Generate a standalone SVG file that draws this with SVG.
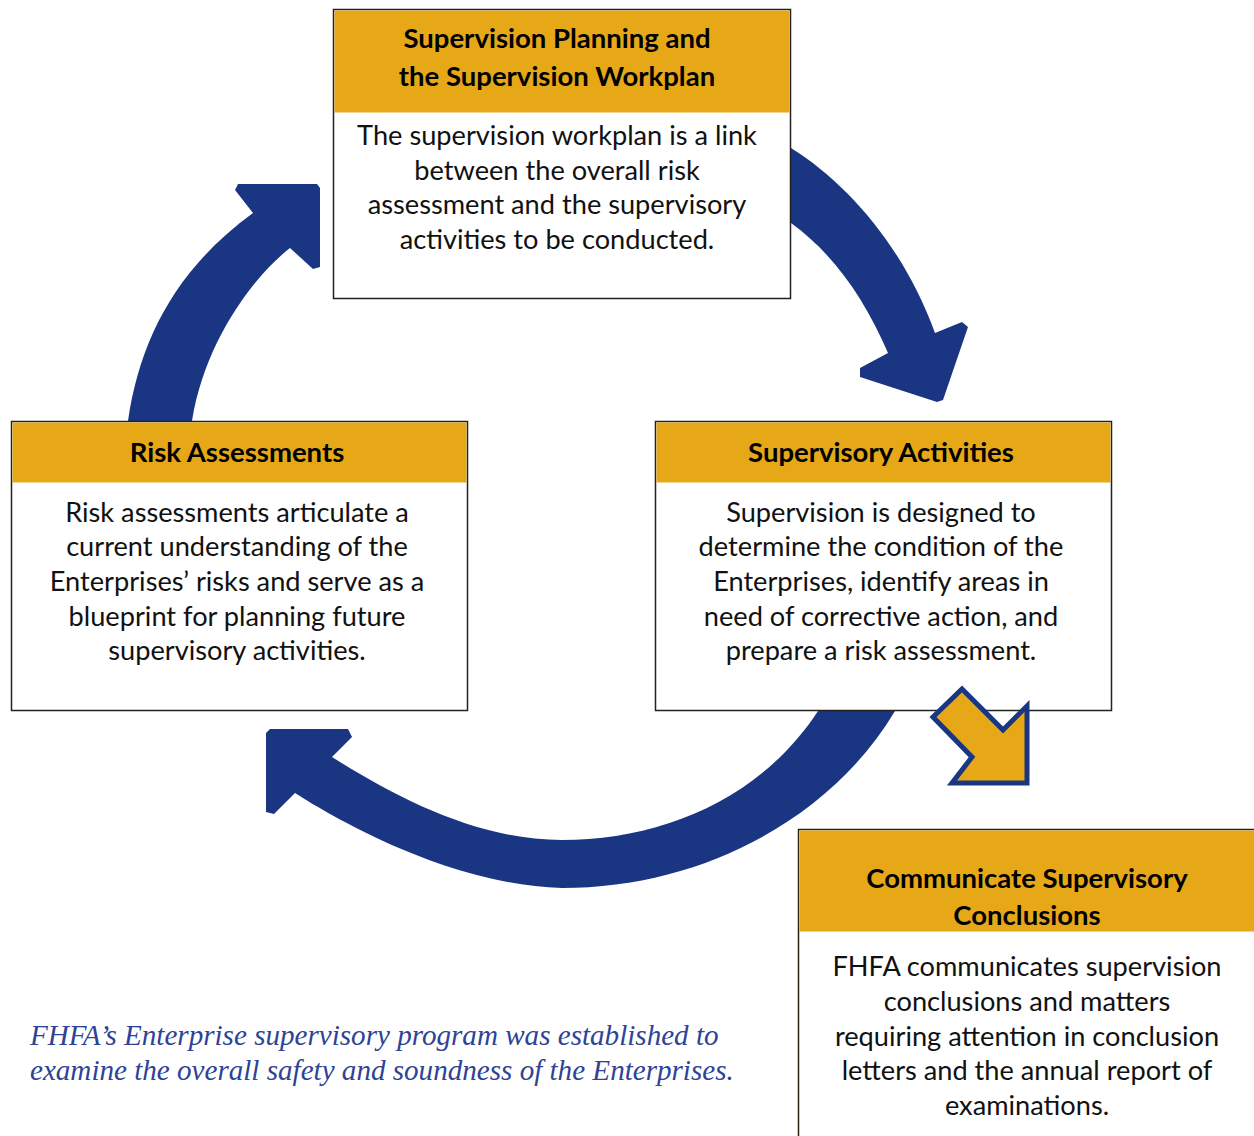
<svg xmlns="http://www.w3.org/2000/svg" width="1254" height="1136" viewBox="0 0 1254 1136">
<style>
.box{fill:#ffffff;stroke:#222222;stroke-width:1.5}
.hdr{fill:#E6A817}
.ht{font-family:Lato,"Open Sans",sans-serif;font-weight:bold;font-size:27.5px;fill:#000;text-anchor:middle}
.bt{font-family:Lato,"Open Sans",sans-serif;font-size:27.2px;fill:#111;text-anchor:middle}
.arr{fill:#1A3682}
.cap{font-family:"Liberation Serif",serif;font-style:italic;font-size:29.1px;fill:#2E4396}
</style>
<rect width="1254" height="1136" fill="#ffffff"/>
<g id="connectors">
<path class="arr" d="M770,140 L791,148 C850,185 905,250 935,333 L962,322 L968,327 L943,400 L937,402 L860,377 L860,368 L888,353 C865,300 835,255 791,223 L770,215 Z"/>
<path class="arr" d="M128,430 L128,421 C140,340 175,270 253,213 L235,190 L238,184 L317,184 L320,188 L320,267 L313,269 L290,248 C255,275 205,340 192,421 L192,430 Z"/>
<path class="arr" d="M818,700 L818,711 C760,800 660,840 562,840 C480,840 400,800 332,757 L352,737 L348,729 L270,729 L266,733 L266,812 L274,814 L295,793 C345,825 455,885 562,888 C700,888 830,820 895,711 L895,700 Z"/>
</g>
<g id="node-planning">
<rect class="box" x="333.5" y="9.5" width="457" height="289"/>
<rect class="hdr" x="334.5" y="10.5" width="455" height="102"/>
<text class="ht" x="557" y="48">Supervision Planning and</text>
<text class="ht" x="557" y="86">the Supervision Workplan</text>
<text class="bt" x="557" y="145">The supervision workplan is a link</text>
<text class="bt" x="557" y="180">between the overall risk</text>
<text class="bt" x="557" y="214">assessment and the supervisory</text>
<text class="bt" x="557" y="249">activities to be conducted.</text>
</g>
<g id="node-risk">
<rect class="box" x="11.5" y="421.5" width="456" height="289"/>
<rect class="hdr" x="12.5" y="422.5" width="454" height="60"/>
<text class="ht" x="237" y="462">Risk Assessments</text>
<text class="bt" x="237" y="522">Risk assessments articulate a</text>
<text class="bt" x="237" y="556">current understanding of the</text>
<text class="bt" x="237" y="591">Enterprises’ risks and serve as a</text>
<text class="bt" x="237" y="626">blueprint for planning future</text>
<text class="bt" x="237" y="660">supervisory activities.</text>
</g>
<g id="node-activities">
<rect class="box" x="655.5" y="421.5" width="456" height="289"/>
<rect class="hdr" x="656.5" y="422.5" width="454" height="60"/>
<text class="ht" x="881" y="462">Supervisory Activities</text>
<text class="bt" x="881" y="522">Supervision is designed to</text>
<text class="bt" x="881" y="556">determine the condition of the</text>
<text class="bt" x="881" y="591">Enterprises, identify areas in</text>
<text class="bt" x="881" y="626">need of corrective action, and</text>
<text class="bt" x="881" y="660">prepare a risk assessment.</text>
</g>
<g id="connector-gold">
<polygon points="962,689 1003,730 1027,706 1027,783 952,783 972,757 933,717" fill="#E6A817" stroke="#1A3682" stroke-width="5" stroke-linejoin="miter"/>
</g>
<g id="node-communicate">
<rect class="box" x="798.5" y="829.5" width="470" height="320" style="stroke:#2a2010"/>
<rect class="hdr" x="799.5" y="830.5" width="460" height="101"/>
<text class="ht" x="1027" y="888">Communicate Supervisory</text>
<text class="ht" x="1027" y="925">Conclusions</text>
<text class="bt" x="1027" y="976">FHFA communicates supervision</text>
<text class="bt" x="1027" y="1011">conclusions and matters</text>
<text class="bt" x="1027" y="1046">requiring attention in conclusion</text>
<text class="bt" x="1027" y="1080">letters and the annual report of</text>
<text class="bt" x="1027" y="1115">examinations.</text>
</g>
<g id="caption">
<text class="cap" x="30" y="1045">FHFA’s Enterprise supervisory program was established to</text>
<text class="cap" x="30" y="1080">examine the overall safety and soundness of the Enterprises.</text>
</g>
</svg>
